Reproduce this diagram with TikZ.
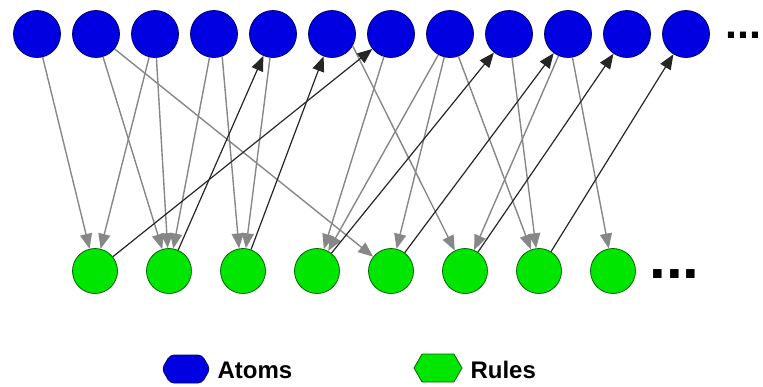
\documentclass[tikz,border=0pt]{standalone}
\usepackage{fontspec}
\setmainfont{Liberation Sans}
\usetikzlibrary{arrows.meta,shapes.symbols}
\definecolor{atomblue}{RGB}{0,0,225}
\definecolor{atomline}{RGB}{0,0,110}
\definecolor{rulegreen}{RGB}{0,230,0}
\definecolor{ruleline}{RGB}{0,100,0}
\definecolor{wiregray}{RGB}{135,135,135}

\begin{document}
\begin{tikzpicture}[x=1pt,y=-1pt,font=\bfseries, >={Triangle[length=15pt,width=12pt]}]
      \tikzstyle{atom node}=[circle,draw=atomline,fill=atomblue,line width=0.8pt,minimum size=47pt,inner sep=0]
      \tikzstyle{rule node}=[circle,draw=ruleline,fill=rulegreen,line width=0.8pt,minimum size=45pt,inner sep=0]
      \tikzstyle{uses}=[->,draw=wiregray,line width=1.4pt]
      \tikzstyle{makes}=[->,draw=black!85,line width=1.2pt]
      \tikzstyle{key}=[signal,signal to=east and west,signal pointer angle=120,minimum width=48pt,minimum height=28pt,inner sep=0,line width=0.8pt]
      \useasboundingbox (0,0) rectangle (763,386);

      % atoms
      \node(a1)[atom node] at (37,34) {};
      \node(a2)[atom node] at (96,34) {};
      \node(a3)[atom node] at (155,34) {};
      \node(a4)[atom node] at (214,34) {};
      \node(a5)[atom node] at (273,34) {};
      \node(a6)[atom node] at (332,34) {};
      \node(a7)[atom node] at (391,34) {};
      \node(a8)[atom node] at (450,34) {};
      \node(a9)[atom node] at (509,34) {};
      \node(a10)[atom node] at (568,34) {};
      \node(a11)[atom node] at (627,34) {};
      \node(a12)[atom node] at (686,34) {};
      \node(moreatoms)[anchor=base west,font=\fontsize{43}{43}\selectfont\bfseries] at (722,38) {...};

      % rules
      \node(r1)[rule node] at (95,271) {};
      \node(r2)[rule node] at (169,271) {};
      \node(r3)[rule node] at (243,271) {};
      \node(r4)[rule node] at (317,271) {};
      \node(r5)[rule node] at (391,271) {};
      \node(r6)[rule node] at (465,271) {};
      \node(r7)[rule node] at (539,271) {};
      \node(r8)[rule node] at (613,271) {};
      \node(morerules)[anchor=base west,font=\fontsize{60}{60}\selectfont\bfseries] at (646,278) {...};

      % atoms into rules
      \draw[uses] (a1) -- (r1);
      \draw[uses] (a3) -- (r1);
      \draw[uses] (a2) -- (r2);
      \draw[uses] (a3) -- (r2);
      \draw[uses] (a4) -- (r2);
      \draw[uses] (a4.-70) -- (r3.100);
      \draw[uses] (a5) -- (r3);
      \draw[uses] (a7) -- (r4);
      \draw[uses] (a8) -- (r4);
      \draw[uses] (a2) -- (r5);
      \draw[uses] (a8) -- (r5);
      \draw[uses] (a6.-30) -- (r6);
      \draw[uses] (a10) -- (r6);
      \draw[uses] (a8) -- (r7);
      \draw[uses] (a9) -- (r7);
      \draw[uses] (a10) -- (r8);

      % rules back to atoms
      \draw[makes] (r1) -- (a7);
      \draw[makes] (r2) -- (a5);
      \draw[makes] (r3) -- (a6);
      \draw[makes] (r4) -- (a9);
      \draw[makes] (r5) -- (a10);
      \draw[makes] (r6) -- (a11);
      \draw[makes] (r7) -- (a12);

      % key
      \node(atomkey)[key,draw=atomline,fill=atomblue,rounded corners=4pt] at (186,369) {};
      \node(atomtext)[anchor=base west,font=\fontsize{24}{24}\selectfont\bfseries] at (214,378) {Atoms};
      \node(rulekey)[key,draw=ruleline,fill=rulegreen] at (438,368) {};
      \node(ruletext)[anchor=base west,font=\fontsize{24}{24}\selectfont\bfseries] at (467,378) {Rules};
\end{tikzpicture}
\end{document}
